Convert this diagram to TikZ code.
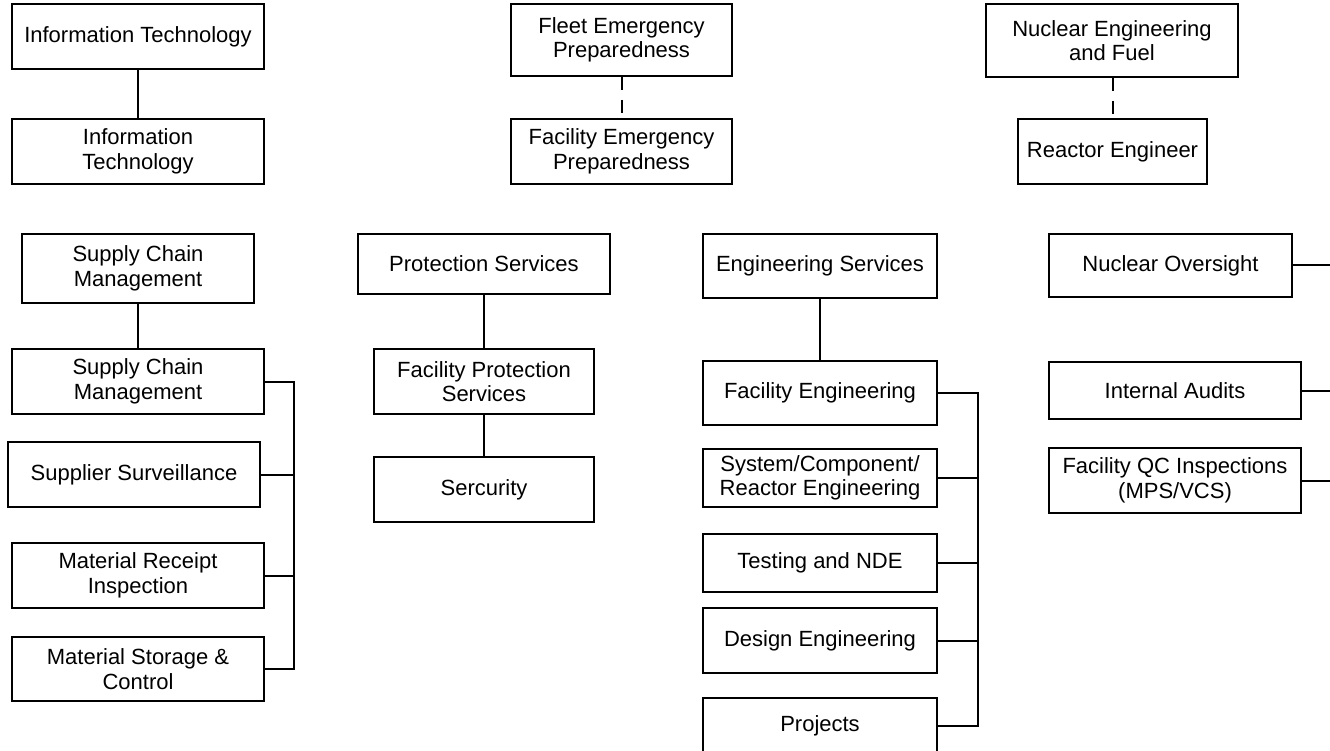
\documentclass[tikz,border=0pt]{standalone}
\usepackage{fontspec}
\setmainfont{Liberation Sans}
\begin{document}
\begin{tikzpicture}[x=1pt,y=-1pt,
  box/.style={draw,line width=2pt,inner sep=0pt,align=center,
    font=\fontsize{22}{24.5}\selectfont},
  conn/.style={line width=2pt},
  dconn/.style={line width=2pt,dash pattern=on 13pt off 10pt}]
\fill[white] (0,0) rectangle (1330,751);
\useasboundingbox (0,0) rectangle (1330,751);
% column 1
\node[box,minimum width=252pt,minimum height=65pt] (it1) at (138,36.5) {Information Technology};
\node[box,minimum width=252pt,minimum height=65pt] (it2) at (138,151.5) {Information\\Technology};
\node[box,minimum width=232pt,minimum height=69pt] (scm1) at (138,268.5) {Supply Chain\\Management};
\node[box,minimum width=252pt,minimum height=65pt] (scm2) at (138,381.5) {Supply Chain\\Management};
\node[box,minimum width=252pt,minimum height=65pt] (ss) at (134,474.5) {Supplier Surveillance};
\node[box,minimum width=252pt,minimum height=65pt] (mri) at (138,575.5) {Material Receipt\\Inspection};
\node[box,minimum width=252pt,minimum height=64pt] (msc) at (138,669) {Material Storage \&\\Control};
% column 2
\node[box,minimum width=221pt,minimum height=72pt] (fep) at (621.5,40) {Fleet Emergency\\Preparedness};
\node[box,minimum width=221pt,minimum height=65pt] (facep) at (621.5,151.5) {Facility Emergency\\Preparedness};
\node[box,minimum width=252pt,minimum height=60pt] (ps) at (484,264) {Protection Services};
\node[box,minimum width=220pt,minimum height=65pt] (fps) at (484,381.5) {Facility Protection\\Services};
\node[box,minimum width=220pt,minimum height=65pt] (sec) at (484,489.5) {Sercurity};
% column 3
\node[box,minimum width=234pt,minimum height=64pt] (es) at (820,266) {Engineering Services};
\node[box,minimum width=234pt,minimum height=64pt] (fe) at (820,393) {Facility Engineering};
\node[box,minimum width=234pt,minimum height=58pt] (scr) at (820,478) {System/Component/\\Reactor Engineering};
\node[box,minimum width=234pt,minimum height=58pt] (tnd) at (820,563) {Testing and NDE};
\node[box,minimum width=234pt,minimum height=65pt] (de) at (820,640.5) {Design Engineering};
\node[box,minimum width=234pt,minimum height=56pt] (proj) at (820,726) {Projects};
% column 4
\node[box,minimum width=252pt,minimum height=73pt] (nef) at (1112,40.5) {Nuclear Engineering\\and Fuel};
\node[box,minimum width=189pt,minimum height=65pt] (re) at (1112.5,151.5) {Reactor Engineer};
\node[box,minimum width=243pt,minimum height=63pt] (no) at (1170.5,265.5) {Nuclear Oversight};
\node[box,minimum width=252pt,minimum height=57pt] (ia) at (1175,390.5) {Internal Audits};
\node[box,minimum width=252pt,minimum height=65pt] (qc) at (1175,480.5) {Facility QC Inspections\\(MPS/VCS)};
% helper coordinates
\coordinate (b1) at (294,0);
\coordinate (b3) at (978,0);
\coordinate (redge) at (1330,0);
% connectors
\draw[conn] (it1) -- (it2);
\draw[conn] (scm1) -- (scm2);
\draw[conn] (ps) -- (fps);
\draw[conn] (fps) -- (sec);
\draw[conn] (es.south -| fe.north) -- (fe.north);
\draw[dconn] (fep.south) -- (facep.north);
\draw[dconn] (nef.south -| re.north) -- (re.north);
\draw[conn] (scm2.east) -| (b1 |- msc.east) -- (msc.east);
\draw[conn] (ss.east) -- (ss.east -| b1);
\draw[conn] (mri.east) -- (mri.east -| b1);
\draw[conn] (fe.east) -| (b3 |- proj.east) -- (proj.east);
\draw[conn] (scr.east) -- (scr.east -| b3);
\draw[conn] (tnd.east) -- (tnd.east -| b3);
\draw[conn] (de.east) -- (de.east -| b3);
\draw[conn] (no.east) -- (no.east -| redge);
\draw[conn] (ia.east) -- (ia.east -| redge);
\draw[conn] (qc.east) -- (qc.east -| redge);
\end{tikzpicture}
\end{document}
